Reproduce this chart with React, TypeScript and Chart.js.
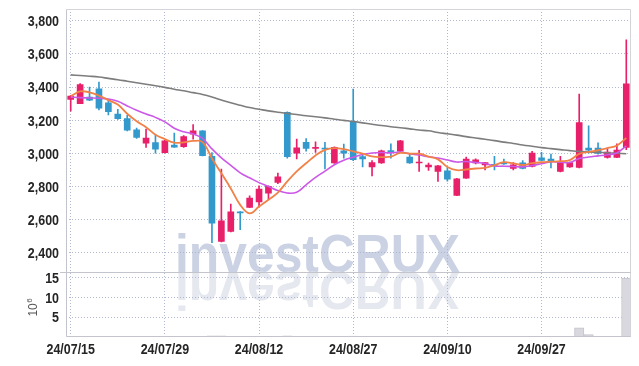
import React, { useEffect, useRef } from 'react';
import { Chart, registerables } from 'chart.js';

Chart.register(...registerables);

const dates = [
  '24/07/15','24/07/16','24/07/17','24/07/18','24/07/19','24/07/22','24/07/23','24/07/24','24/07/25','24/07/26',
  '24/07/29','24/07/30','24/07/31','24/08/01','24/08/02','24/08/05','24/08/06','24/08/07','24/08/08','24/08/09',
  '24/08/12','24/08/13','24/08/14','24/08/16','24/08/19','24/08/20','24/08/21','24/08/22','24/08/23','24/08/26',
  '24/08/27','24/08/28','24/08/29','24/08/30','24/09/02','24/09/03','24/09/04','24/09/05','24/09/06','24/09/09',
  '24/09/10','24/09/11','24/09/12','24/09/13','24/09/19','24/09/20','24/09/23','24/09/24','24/09/25','24/09/26',
  '24/09/27','24/09/30','24/10/02','24/10/04','24/10/07','24/10/08','24/10/10','24/10/11','24/10/14','24/10/15',
];

const opens = [3325,3300,3340,3389,3305,3237,3210,3142,3062,3065,3005,3050,3040,3116,3136,2982,2470,2530,2648,2675,2707,2761,2825,3247,3002,3066,3030,3032,2942,3016,3193,2981,2918,2942,3017,3014,2978,2942,2918,2891,2895,2747,2851,2942,2930,2934,2940,2909,2943,2921,2974,2966,2891,2918,2915,3032,3032,2976,2976,3036];
const highs = [3350,3420,3400,3430,3320,3265,3230,3152,3146,3112,3078,3122,3108,3173,3138,3005,2906,2695,2650,2745,2805,2805,2882,3250,3086,3090,3070,3066,3040,3056,3387,2998,2957,3020,3058,3078,2998,3018,2942,2928,2915,2850,2978,2968,2946,2982,2966,2945,2957,3012,3006,2996,2982,2947,3357,3166,3064,3032,3058,3684];
const lows = [3255,3300,3318,3262,3232,3205,3135,3090,3036,3002,3003,3036,3036,3086,2985,2462,2466,2527,2540,2673,2680,2725,2817,2972,2966,3014,3006,2906,2940,2972,2956,2918,2865,2940,2972,3012,2940,2891,2897,2831,2832,2745,2849,2936,2901,2901,2934,2901,2907,2919,2955,2912,2889,2916,2913,3002,2996,2972,2974,3022];
const closes = [3345,3415,3320,3272,3252,3210,3140,3096,3092,3025,3076,3038,3102,3136,2987,2580,2594,2648,2642,2731,2785,2801,2859,2981,3034,3030,3036,3026,3036,3002,2962,2966,2945,3016,3010,3076,2942,2948,2930,2925,2845,2847,2966,2962,2944,2928,2936,2931,2909,3002,2957,2951,2945,2945,3186,3020,3000,3008,3020,3419];

// volume in millions (10^6)
const volumes = [0.02,0.02,0.02,0.02,0.02,0.02,0.02,0.02,0.02,0.02,0.02,0.02,0.02,0.02,0.02,0.3,0.3,0.02,0.02,0.02,0.02,0.02,0.02,0.3,0.02,0.02,0.02,0.02,0.02,0.02,0.25,0.02,0.02,0.02,0.02,0.02,0.02,0.02,0.02,0.02,0.02,0.02,0.02,0.02,0.02,0.02,0.02,0.02,0.02,0.02,0.02,0.02,0.02,0.02,2.3,0.6,0.02,0.02,0.02,14.8];

const ma5 = [3345,3373,3368,3348,3321,3294,3239,3194,3158,3113,3086,3065,3067,3075,3068,2969,2880,2789,2690,2639,2680,2721,2764,2831,2892,2941,2988,3021,3032,3026,3012,2998,2982,2978,2980,3003,2998,2998,2981,2964,2918,2899,2903,2909,2913,2929,2947,2940,2930,2941,2947,2950,2953,2960,2997,3009,3019,3032,3047,3093];
const ma10 = [3339,3336,3334,3332,3328,3314,3286,3260,3238,3217,3190,3152,3130,3117,3090,3027,2973,2928,2883,2853,2824,2801,2776,2761,2766,2811,2855,2893,2932,2959,2977,2993,3002,3005,3003,3008,2998,2990,2980,2972,2960,2948,2951,2945,2939,2924,2923,2921,2919,2927,2938,2949,2947,2945,2969,2978,2985,2992,3003,3045];
const maLong = [3473,3469,3465,3460,3452,3444,3435,3426,3417,3408,3398,3387,3377,3366,3355,3340,3322,3305,3290,3276,3266,3256,3248,3241,3234,3227,3221,3214,3206,3199,3192,3184,3176,3168,3161,3155,3148,3141,3136,3126,3118,3110,3101,3093,3085,3077,3068,3060,3051,3043,3035,3029,3023,3017,3012,3009,3006,3004,3001,2998];

const priceTicks = [2400, 2600, 2800, 3000, 3200, 3400, 3600, 3800];
const volumeTicks = [5, 10, 15];

const UP = '#e8206a';
const DOWN = '#3399cc';
const GRID = 'rgba(170,178,205,0.9)';
const LABEL_FONT = 'bold 15px "Liberation Sans", sans-serif';
const LABEL_SX = 0.83;
const LABEL_COLOR = '#252525';

const candleColor = (ctx: any) =>
  closes[ctx.dataIndex] >= opens[ctx.dataIndex] ? UP : DOWN;

function narrowText(ctx: CanvasRenderingContext2D, text: string, x: number, y: number, align: CanvasTextAlign) {
  ctx.save();
  ctx.translate(x, y);
  ctx.scale(LABEL_SX, 1);
  ctx.textAlign = align;
  ctx.textBaseline = 'alphabetic';
  ctx.fillText(text, 0, 0);
  ctx.restore();
}

const overlayPlugin = {
  id: 'overlay',
  beforeDraw(chart: any) {
    const { ctx } = chart;
    const yScale = chart.scales.y;
    const base = yScale.bottom;
    ctx.save();
    ctx.font = 'bold 54px "Liberation Sans", sans-serif';
    const text = 'investCRUX';
    const w = ctx.measureText(text).width;
    ctx.translate(175, base);
    ctx.scale(285 / w, 1);
    ctx.textBaseline = 'alphabetic';
    ctx.fillStyle = 'rgb(203,210,228)';
    ctx.fillText(text, 0, 0);
    ctx.scale(1, -1);
    ctx.fillStyle = 'rgb(230,232,240)';
    ctx.fillText(text, 0, 0);
    ctx.restore();
  },
  afterDraw(chart: any) {
    const { ctx, chartArea } = chart;
    const yScale = chart.scales.y;
    const vScale = chart.scales.yv;
    const xScale = chart.scales.x;
    ctx.save();
    ctx.lineWidth = 1;
    ctx.strokeStyle = '#d4d4da';
    const l = Math.round(chartArea.left) + 0.5;
    const r = Math.round(chartArea.right) - 0.5;
    const t = Math.round(chartArea.top) + 0.5;
    const b = Math.round(chartArea.bottom) - 0.5;
    ctx.beginPath();
    ctx.moveTo(l, t); ctx.lineTo(r, t); ctx.lineTo(r, b);
    ctx.stroke();
    ctx.strokeStyle = '#c4c4cc';
    ctx.beginPath();
    ctx.moveTo(l, t); ctx.lineTo(l, b); ctx.lineTo(r, b);
    const sep = Math.round(yScale.bottom) + 0.5;
    ctx.moveTo(chartArea.left - 6, sep); ctx.lineTo(r, sep);
    ctx.stroke();

    // tick labels
    ctx.font = LABEL_FONT;
    ctx.fillStyle = LABEL_COLOR;
    const labelRight = chartArea.left - 7;
    priceTicks.forEach((v) => {
      const py = yScale.getPixelForValue(v);
      narrowText(ctx, v.toLocaleString('en-US'), labelRight, py + 5.4, 'right');
    });
    volumeTicks.forEach((v) => {
      const py = vScale.getPixelForValue(v);
      narrowText(ctx, String(v), labelRight, py + 5.4, 'right');
    });
    dates.forEach((d, i) => {
      if (i % 10 !== 0) return;
      const px = xScale.getPixelForValue(i);
      narrowText(ctx, d, px, chartArea.bottom + 17, 'center');
    });

    // volume unit label
    const cy = (vScale.top + vScale.bottom) / 2;
    ctx.translate(37, cy + 12);
    ctx.rotate(-Math.PI / 2);
    ctx.fillStyle = '#555';
    ctx.textBaseline = 'alphabetic';
    ctx.textAlign = 'left';
    ctx.font = '12px "Liberation Sans", sans-serif';
    ctx.fillText('10', 0, 0);
    const w10 = ctx.measureText('10').width;
    ctx.font = '8px "Liberation Sans", sans-serif';
    ctx.fillText('6', w10 + 0.5, -5);
    ctx.restore();
  },
};

export default function App() {
  const ref = useRef<HTMLCanvasElement | null>(null);

  useEffect(() => {
    if (!ref.current) return;
    const chart = new Chart(ref.current, {
      type: 'bar',
      data: {
        labels: dates,
        datasets: [
          {
            type: 'line',
            label: 'MA5',
            data: ma5,
            borderColor: 'rgb(240,130,72)',
            borderWidth: 1.8,
            pointRadius: 0,
            tension: 0.4,
            yAxisID: 'y',
            order: 0,
          } as any,
          {
            type: 'line',
            label: 'MA10',
            data: ma10,
            borderColor: 'rgb(204,88,232)',
            borderWidth: 1.6,
            pointRadius: 0,
            tension: 0.4,
            yAxisID: 'y',
            order: 0,
          } as any,
          {
            type: 'line',
            label: 'MA long',
            data: maLong,
            borderColor: 'rgb(125,125,125)',
            borderWidth: 1.6,
            pointRadius: 0,
            tension: 0.4,
            yAxisID: 'y',
            order: 0,
          } as any,
          {
            label: 'wick',
            data: lows.map((lo, i) => [lo, highs[i]]),
            backgroundColor: candleColor,
            barThickness: 1,
            grouped: false,
            yAxisID: 'y',
            order: 2,
          } as any,
          {
            label: 'body',
            data: opens.map((o, i) => [o, closes[i]]),
            backgroundColor: candleColor,
            barThickness: 6,
            minBarLength: 1,
            grouped: false,
            yAxisID: 'y',
            order: 1,
          } as any,
          {
            label: 'volume',
            data: volumes,
            backgroundColor: 'rgb(216,216,222)',
            borderColor: 'rgb(196,196,204)',
            borderWidth: 1,
            barPercentage: 1,
            categoryPercentage: 1,
            grouped: false,
            yAxisID: 'yv',
            order: 3,
          } as any,
        ],
      },
      options: {
        responsive: false,
        animation: false,
        events: [],
        layout: { padding: { top: 9, right: 8, left: 0, bottom: 0 } },
        plugins: { legend: { display: false }, tooltip: { enabled: false } },
        scales: {
          x: {
            type: 'category',
            offset: true,
            grid: {
              offset: false,
              drawTicks: false,
              color: (ctx: any) => (ctx.index % 10 === 0 ? GRID : 'rgba(0,0,0,0)'),
            },
            border: { display: false, dash: [1, 2] },
            ticks: { display: false, autoSkip: false },
            afterFit: (s: any) => { s.height = 29; },
          },
          yv: {
            type: 'linear',
            position: 'left',
            stack: 'panels',
            stackWeight: 1,
            min: 0,
            max: 16.25,
            grid: { drawTicks: false, color: GRID },
            border: { display: false, dash: [1, 2] },
            ticks: { display: false, autoSkip: false },
            afterBuildTicks: (s: any) => { s.ticks = volumeTicks.map((v) => ({ value: v })); },
            afterFit: (s: any) => { s.width = 66; },
          },
          y: {
            type: 'linear',
            position: 'left',
            stack: 'panels',
            stackWeight: 4.065,
            min: 2284,
            max: 3870,
            grid: { drawTicks: false, color: GRID },
            border: { display: false, dash: [1, 2] },
            ticks: { display: false, autoSkip: false },
            afterBuildTicks: (s: any) => { s.ticks = priceTicks.map((v) => ({ value: v })); },
            afterFit: (s: any) => { s.width = 66; },
          },
        } as any,
      },
      plugins: [overlayPlugin],
    });
    return () => chart.destroy();
  }, []);

  return (
    <div style={{ position: 'absolute', left: 0, top: 0, width: 639, height: 366, background: '#fff' }}>
      <canvas ref={ref} width={639} height={366} style={{ display: 'block' }} />
    </div>
  );
}
